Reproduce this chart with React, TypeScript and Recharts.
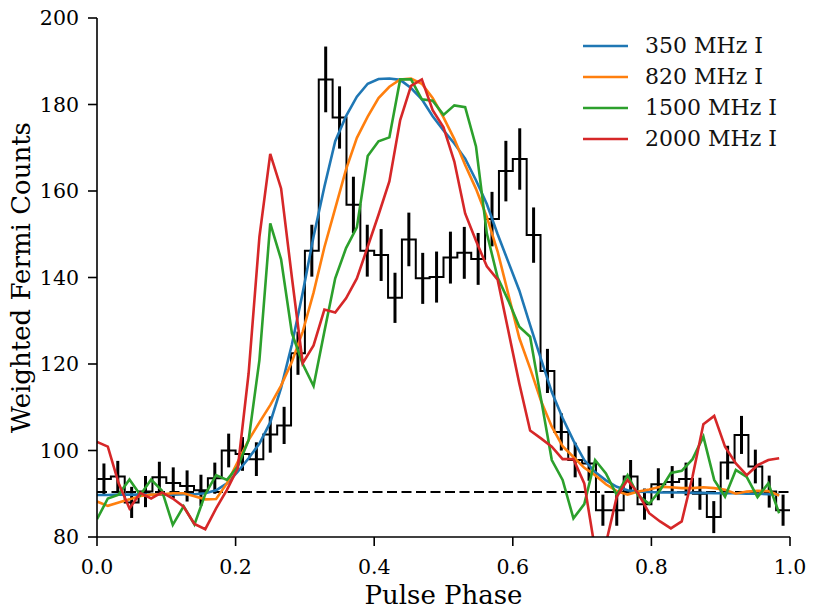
import React from "react";
import {
  ComposedChart,
  ErrorBar,
  Legend,
  Line,
  ReferenceLine,
  XAxis,
  YAxis,
} from "recharts";

// weighted Fermi counts per 0.02 phase bin
const binCounts = [
  93.4, 94.0, 88.0, 90.5, 93.8, 92.5, 91.8, 90.8, 93.6, 100.0,
  99.2, 98.0, 103.7, 105.8, 122.5, 146.2, 185.8, 177.0, 156.8, 146.2,
  145.2, 135.3, 148.8, 139.8, 140.1, 144.6, 145.7, 144.3, 153.5, 164.6,
  167.4, 149.8, 118.4, 104.3, 97.8, 97.0, 86.2, 86.2, 94.0, 87.6,
  92.2, 92.7, 93.4, 90.0, 84.6, 97.2, 103.6, 96.3, 90.5, 86.2,
];

const binErrors = [
  3.6, 3.6, 3.6, 3.6, 3.6, 3.6, 3.6, 3.6, 3.6, 3.9,
  3.9, 3.9, 4.2, 4.3, 5.0, 6.0, 7.6, 7.2, 6.5, 6.0,
  6.0, 5.8, 6.2, 5.9, 5.9, 6.0, 6.0, 6.0, 6.3, 7.0,
  7.1, 6.4, 5.1, 4.3, 4.0, 4.0, 3.6, 3.6, 3.8, 3.6,
  3.7, 3.7, 3.8, 3.7, 3.7, 3.9, 4.4, 3.9, 3.7, 3.6,
];

const background = 90.4;

// radio profiles scaled to the gamma-ray counts, 64 phase samples
const profile350 = [
  89.7, 89.7, 89.8, 89.8, 89.8, 89.8, 89.8, 89.8, 89.9, 89.9,
  90.1, 90.8, 92.4, 95.1, 98.2, 101.6, 106.5, 114.5, 124.5, 136.5,
  149.5, 161.0, 171.5, 177.3, 181.8, 184.8, 185.9, 186.0, 185.7, 183.8,
  181.2, 177.3, 174.0, 171.0, 167.5, 162.5, 157.0, 150.0, 143.5, 137.0,
  129.0, 121.2, 113.5, 107.5, 102.3, 97.8, 95.0, 93.1, 91.6, 90.8,
  90.5, 90.4, 90.3, 90.3, 90.3, 90.2, 90.2, 90.1, 90.1, 90.1,
  90.0, 90.0, 89.9, 89.8,
];

const profile820 = [
  88.2, 87.2, 88.0, 88.7, 89.5, 89.8, 89.9, 90.1, 90.1, 89.4,
  88.7, 88.8, 92.4, 97.4, 102.4, 106.5, 110.5, 115.0, 120.5, 127.5,
  136.5, 147.0, 156.0, 165.0, 172.3, 177.2, 181.5, 184.1, 185.8, 186.0,
  184.8, 181.5, 177.0, 172.0, 166.0, 160.5, 154.0, 146.0, 136.0, 126.0,
  119.0, 111.5, 105.5, 101.0, 98.5, 96.0, 94.3, 92.2, 90.6, 89.8,
  90.5, 91.0, 91.6, 91.5, 91.3, 91.3, 91.5, 91.3, 90.9, 90.0,
  90.5, 90.7, 90.6, 89.6,
];

const profile1500 = [
  84.1, 88.9, 89.8, 93.3, 89.7, 93.3, 90.7, 82.8, 87.1, 82.9,
  89.9, 94.3, 93.2, 96.3, 102.4, 120.9, 152.5, 144.2, 127.1, 120.0,
  114.9, 127.5, 139.8, 146.8, 151.6, 168.1, 171.5, 172.4, 185.8, 185.8,
  181.2, 180.9, 177.6, 179.8, 179.4, 170.3, 150.2, 140.0, 134.6, 128.6,
  126.3, 112.0, 97.8, 93.2, 84.3, 87.6, 97.8, 94.7, 89.7, 94.3,
  89.5, 87.7, 90.8, 94.8, 95.3, 98.0, 103.2, 93.2, 89.3, 95.5,
  93.9, 89.2, 92.4, 85.5,
];

const profile2000 = [
  102.0, 100.9, 92.4, 86.6, 90.2, 88.9, 90.3, 88.9, 87.0, 83.0,
  81.8, 86.6, 90.9, 95.9, 117.8, 149.4, 168.6, 160.6, 140.0, 120.2,
  124.3, 132.6, 131.9, 135.2, 139.8, 147.1, 154.5, 162.2, 176.4, 184.3,
  185.8, 178.7, 174.7, 166.8, 154.8, 148.5, 142.6, 139.5, 127.5, 115.5,
  104.6, 102.8, 100.9, 98.0, 98.0, 92.4, 77.0, 78.5, 89.3, 93.2,
  90.0, 85.5, 83.6, 82.0, 83.6, 94.0, 106.1, 108.0, 100.9, 97.0,
  94.3, 96.6, 97.8, 98.2,
];

const xTicks = [0, 0.2, 0.4, 0.6, 0.8, 1.0];
const yTicks = [80, 100, 120, 140, 160, 180, 200];

const series = [
  { label: "350 MHz I", color: "#1f77b4", values: profile350 },
  { label: "820 MHz I", color: "#ff7f0e", values: profile820 },
  { label: "1500 MHz I", color: "#2ca02c", values: profile1500 },
  { label: "2000 MHz I", color: "#d62728", values: profile2000 },
];

const binWidth = 1 / binCounts.length;
const histData = [
  ...binCounts.map((c, i) => ({ x: i * binWidth, count: c })),
  { x: 1, count: binCounts[binCounts.length - 1] },
];
const errData = binCounts.map((c, i) => ({
  x: (i + 0.5) * binWidth,
  count: c,
  err: binErrors[i],
}));
const toCurve = (values: number[]) =>
  values.map((v, i) => ({ x: i / values.length, y: v }));

const font = "DejaVu Serif";
const tickStyle = { fontSize: 20.5, fill: "#000", fontFamily: font };
const spine = { stroke: "#000", strokeWidth: 1.6 };

function LegendBox() {
  return (
    <div style={{ fontFamily: font, fontSize: 22, color: "#111" }}>
      {series.map((s) => (
        <div
          key={s.label}
          style={{ display: "flex", alignItems: "center", height: 31 }}
        >
          <svg width={45} height={4}>
            <line x1={0} y1={2} x2={45} y2={2} stroke={s.color} strokeWidth={2.5} />
          </svg>
          <span style={{ marginLeft: 17, lineHeight: "31px" }}>{s.label}</span>
        </div>
      ))}
    </div>
  );
}

export default function App() {
  return (
    <div style={{ position: "absolute", left: 0, top: 0, background: "#fff" }}>
      <ComposedChart
        width={814}
        height={610}
        margin={{ top: 18, right: 24, bottom: 0, left: 0 }}
      >
        <XAxis
          dataKey="x"
          type="number"
          domain={[0, 1]}
          ticks={xTicks}
          interval={0}
          allowDataOverflow
          tickFormatter={(v: number) => v.toFixed(1)}
          height={73}
          tickSize={9}
          tickMargin={13}
          tick={tickStyle}
          axisLine={spine}
          tickLine={spine}
          label={{
            value: "Pulse Phase",
            position: "insideBottom",
            offset: 6,
            fill: "#000",
            fontSize: 26,
            fontFamily: font,
          }}
        />
        <XAxis
          xAxisId="top"
          orientation="top"
          type="number"
          domain={[0, 1]}
          height={0}
          tick={false}
          tickLine={false}
          axisLine={spine}
        />
        <YAxis
          type="number"
          domain={[80, 200]}
          ticks={yTicks}
          interval={0}
          allowDataOverflow
          width={97}
          tickSize={9}
          tickMargin={9}
          tick={tickStyle}
          axisLine={spine}
          tickLine={spine}
          label={{
            value: "Weighted Fermi Counts",
            angle: -90,
            position: "center",
            dx: -28,
            fill: "#000",
            fontSize: 26,
            fontFamily: font,
          }}
        />
        <YAxis
          yAxisId="right"
          orientation="right"
          type="number"
          domain={[80, 200]}
          width={0}
          tick={false}
          tickLine={false}
          axisLine={spine}
        />

        <Line
          data={histData}
          dataKey="count"
          type="stepAfter"
          stroke="#000"
          strokeWidth={2}
          dot={false}
          legendType="none"
          isAnimationActive={false}
        />
        <Line
          data={errData}
          dataKey="count"
          stroke="none"
          dot={false}
          legendType="none"
          isAnimationActive={false}
        >
          <ErrorBar dataKey="err" direction="y" width={0} stroke="#000" strokeWidth={3} />
        </Line>
        <ReferenceLine y={background} stroke="#000" strokeWidth={2.2} strokeDasharray="10 4.5" />

        {series.map((s) => (
          <Line
            key={s.label}
            data={toCurve(s.values)}
            dataKey="y"
            name={s.label}
            type="linear"
            stroke={s.color}
            strokeWidth={2.6}
            dot={false}
            isAnimationActive={false}
          />
        ))}

        <Legend
          layout="vertical"
          align="center"
          verticalAlign="middle"
          wrapperStyle={{ left: 583, top: 30, width: 220, height: "auto" }}
          content={() => <LegendBox />}
        />
      </ComposedChart>
    </div>
  );
}
